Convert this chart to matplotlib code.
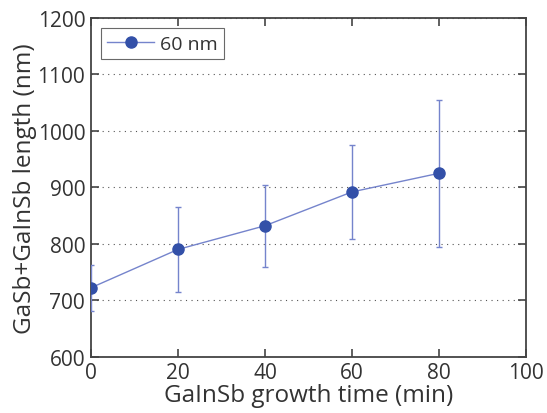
import matplotlib

matplotlib.use("Agg")
import matplotlib.pyplot as plt
from matplotlib.lines import Line2D

plt.rcParams["font.family"] = ["Open Sans", "DejaVu Sans"]

# growth time (min), total length (nm), error (nm)
time_min = [0, 20, 40, 60, 80]
length_nm = [722, 790, 832, 892, 925]
err_nm = [41, 75, 73, 83, 130]

line_color = "#7584cc"
marker_color = "#3350a8"
text_color = "#333333"

fig = plt.figure(figsize=(5.47, 4.14), dpi=100)
ax = fig.add_axes([0.166, 0.136, 0.796, 0.818])

ax.errorbar(time_min, length_nm, yerr=err_nm, color=line_color, lw=1.0,
            elinewidth=1.0, capsize=2.5, capthick=1.0,
            marker="o", ms=8, mfc=marker_color, mec=marker_color, zorder=3)

ax.set_xlim(0, 100)
ax.set_ylim(600, 1200)
ax.set_xticks([0, 20, 40, 60, 80, 100])
ax.set_yticks([600, 700, 800, 900, 1000, 1100, 1200])

ax.yaxis.grid(True, ls=(0, (1, 4)), color="#555555", lw=0.8)
ax.set_axisbelow(True)

ax.tick_params(direction="in", top=True, right=True, length=6, width=1.2,
               labelsize=15, colors="#444444", labelcolor=text_color, pad=4)
for s in ax.spines.values():
    s.set_color("#444444")
    s.set_linewidth(1.3)

ax.set_xlabel("GaInSb growth time (min)", fontsize=17.5, color=text_color, labelpad=0)
ax.set_ylabel("GaSb+GaInSb length (nm)", fontsize=17.5, color=text_color, labelpad=0)

handle = Line2D([], [], color=line_color, lw=1.0, marker="o", ms=8,
                mfc=marker_color, mec=marker_color)
leg = ax.legend([handle], ["60 nm"], loc="upper left", fontsize=14, frameon=True,
                fancybox=False, handlelength=2.4, handletextpad=0.3,
                borderaxespad=0.5, borderpad=0.35)
leg.get_frame().set_edgecolor("#444444")
leg.get_frame().set_linewidth(0.8)
for t in leg.get_texts():
    t.set_color(text_color)

fig.savefig("out.png", dpi=100)
